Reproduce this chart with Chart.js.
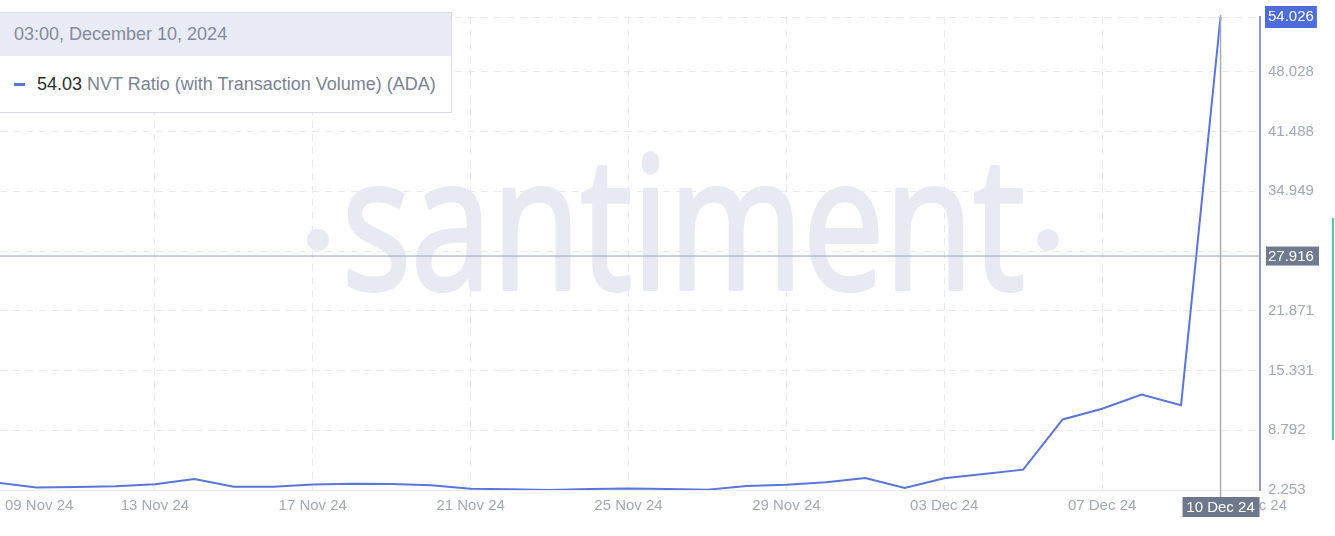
<!DOCTYPE html>
<html>
<head>
<meta charset="utf-8">
<script src="https://cdn.jsdelivr.net/npm/chart.js@4.4.1/dist/chart.umd.min.js"></script>
<style>
  html, body { margin: 0; padding: 0; background: #fff; }
  #wrap { position: relative; width: 1335px; height: 536px; overflow: hidden; font-family: "Liberation Sans", Arial, sans-serif; }
  #chart { position: absolute; left: 0; top: 0; }
  .tip { position: absolute; left: -1px; top: 12px; width: 453px; height: 101px; border: 1px solid #d9dce4; background: #fff; box-sizing: border-box; }
  .tip .head { height: 43px; background: #e9ebf6; color: #858a9a; font-size: 18px; line-height: 43px; padding-left: 14px; }
  .tip .row { position: relative; height: 57px; line-height: 57px; font-size: 18px; color: #7b8294; padding-left: 37px; }
  .tip .row i { position: absolute; left: 14px; top: 27px; width: 11px; height: 3px; background: #5a74d8; }
  .tip .row b { font-weight: normal; color: #2d2d2d; }
  .side { position: absolute; left: 1332px; top: 218px; width: 2px; height: 222px; background: #45d3a6; }
</style>
</head>
<body>
<div id="wrap">
  <canvas id="chart" width="1335" height="536"></canvas>
  <div class="tip">
    <div class="head" id="tipTitle"></div>
    <div class="row"><i></i><b id="tipValue"></b> <span id="tipName"></span></div>
  </div>
  <div class="side"></div>
</div>
<script>
// daily points, 09 Nov 2024 .. 10 Dec 2024
const days = [
  "2024-11-09", "2024-11-10", "2024-11-11", "2024-11-12", "2024-11-13", "2024-11-14", "2024-11-15", "2024-11-16",
  "2024-11-17", "2024-11-18", "2024-11-19", "2024-11-20", "2024-11-21", "2024-11-22", "2024-11-23", "2024-11-24",
  "2024-11-25", "2024-11-26", "2024-11-27", "2024-11-28", "2024-11-29", "2024-11-30", "2024-12-01", "2024-12-02",
  "2024-12-03", "2024-12-04", "2024-12-05", "2024-12-06", "2024-12-07", "2024-12-08", "2024-12-09", "2024-12-10"
];
const nvtRatio = [
  3.06, 2.54, 2.59, 2.65, 2.88, 3.46, 2.62, 2.62,
  2.86, 2.94, 2.91, 2.76, 2.40, 2.33, 2.253, 2.36,
  2.43, 2.36, 2.29, 2.69, 2.83, 3.09, 3.57, 2.47,
  3.53, 4.01, 4.48, 9.97, 11.15, 12.71, 11.54, 54.026
];
const xTickIdx = [0, 4, 8, 12, 16, 20, 24, 28, 32];
const xTickLabels = ["09 Nov 24", "13 Nov 24", "17 Nov 24", "21 Nov 24", "25 Nov 24", "29 Nov 24", "03 Dec 24", "07 Dec 24", "11 Dec 24"];
const yTicks = [2.253, 8.792, 15.331, 21.871, 28.410, 34.949, 41.488, 48.028, 54.026];

const seriesName = "NVT Ratio (with Transaction Volume) (ADA)";
const hoverIndex = 31;
const hoverTitle = "03:00, December 10, 2024";
const hoverDateLabel = "10 Dec 24";
const crosshairValue = 27.916;

const yMin = 2.253, yMax = 54.026;
const font = "\"Liberation Sans\", Arial, sans-serif";

document.getElementById("tipTitle").textContent = hoverTitle;
document.getElementById("tipValue").textContent = nvtRatio[hoverIndex].toFixed(2);
document.getElementById("tipName").textContent = seriesName;

// big faint logo behind everything
const watermark = {
  id: "watermark",
  beforeDraw(chart) {
    const ctx = chart.ctx;
    ctx.save();
    ctx.fillStyle = "#e8eaf3";
    ctx.strokeStyle = "#e8eaf3";
    ctx.lineWidth = 4;
    ctx.lineJoin = "round";
    ctx.font = "400 185px \"Open Sans\"";
    const w = ctx.measureText("santiment").width;
    const sx = 683 / w;
    ctx.translate(342, 289);
    ctx.scale(sx, 1);
    ctx.fillText("santiment", 0, 0);
    ctx.strokeText("santiment", 0, 0);
    ctx.restore();
    ctx.save();
    ctx.fillStyle = "#e8eaf3";
    [318, 1048].forEach(x => { ctx.beginPath(); ctx.arc(x, 240, 11, 0, Math.PI * 2); ctx.fill(); });
    ctx.restore();
  }
};

// date labels under the plot + hover crosshair
const overlay = {
  id: "overlay",
  afterDraw(chart) {
    const ctx = chart.ctx;
    const xs = chart.scales.x, ys = chart.scales.y;
    const area = chart.chartArea;
    ctx.save();
    ctx.font = "15px " + font;
    ctx.fillStyle = "#a2a9b8";
    ctx.textBaseline = "middle";
    xTickIdx.forEach((v, i) => {
      const w = ctx.measureText(xTickLabels[i]).width;
      let left = xs.getPixelForValue(v) - w / 2;
      if (left < 5) left = 5;
      if (left + w > 1287) left = 1287 - w;
      ctx.fillText(xTickLabels[i], left, 506);
    });

    const cx = xs.getPixelForValue(hoverIndex);
    const cy = ys.getPixelForValue(crosshairValue);
    ctx.strokeStyle = "#97a0c4";
    ctx.lineWidth = 1;
    ctx.beginPath(); ctx.moveTo(0, cy + 0.5); ctx.lineTo(area.right, cy + 0.5); ctx.stroke();
    ctx.strokeStyle = "#a7acb8";
    ctx.lineWidth = 1.5;
    ctx.beginPath(); ctx.moveTo(cx, 15); ctx.lineTo(cx, 498); ctx.stroke();

    // value box on the axis
    ctx.fillStyle = "#6f7a8f";
    ctx.fillRect(area.right + 6, cy - 9, 53, 19);
    ctx.fillStyle = "#fff";
    ctx.fillText(crosshairValue.toFixed(3), area.right + 8, cy + 1);

    // date box under the crosshair
    const dw = ctx.measureText(hoverDateLabel).width;
    ctx.fillStyle = "#6d788c";
    ctx.fillRect(cx - 38, 497, 77, 20);
    ctx.fillStyle = "#fff";
    ctx.fillText(hoverDateLabel, cx - dw / 2, 507.5);
    ctx.restore();
  }
};

new Chart(document.getElementById("chart"), {
  type: "line",
  data: {
    labels: days,
    datasets: [{
      label: seriesName,
      data: nvtRatio.map((v, i) => ({ x: i, y: v })),
      borderColor: "#5a76dc",
      borderWidth: 2,
      pointRadius: 0,
      tension: 0,
      fill: false
    }]
  },
  options: {
    responsive: false,
    animation: false,
    events: [],
    layout: { padding: { top: 17, left: 0, right: 0, bottom: 0 } },
    plugins: { legend: { display: false }, tooltip: { enabled: false } },
    scales: {
      x: {
        type: "linear",
        min: 0.076,
        max: 32,
        afterBuildTicks: s => { s.ticks = xTickIdx.map(v => ({ value: v })); },
        afterFit: s => { s.height = 46; },
        ticks: { display: false },
        grid: { color: "#e9eaef", lineWidth: 1, drawTicks: false },
        border: { display: true, color: "#ebecf0", width: 1, dash: [7, 6] }
      },
      y: {
        position: "right",
        min: yMin,
        max: yMax,
        afterBuildTicks: s => { s.ticks = yTicks.map(v => ({ value: v })); },
        afterFit: s => { s.width = 75; },
        grid: { color: "#e9eaef", lineWidth: 1, drawTicks: false },
        border: { display: true, color: "#8d9bd0", width: 2, dash: [7, 6] },
        ticks: {
          padding: 8,
          font: { family: font, size: 15 },
          callback: v => v.toFixed(3),
          color: c => {
            if (c.tick.value === yMax) return "#ffffff";
            if (Math.abs(c.tick.value - crosshairValue) < 1.5) return "rgba(0,0,0,0)";
            return "#a3a9b6";
          },
          showLabelBackdrop: c => c.tick.value === yMax,
          backdropColor: "#4e6ddc",
          backdropPadding: { x: 3, y: 2 }
        }
      }
    }
  },
  plugins: [watermark, overlay]
});
</script>
</body>
</html>
